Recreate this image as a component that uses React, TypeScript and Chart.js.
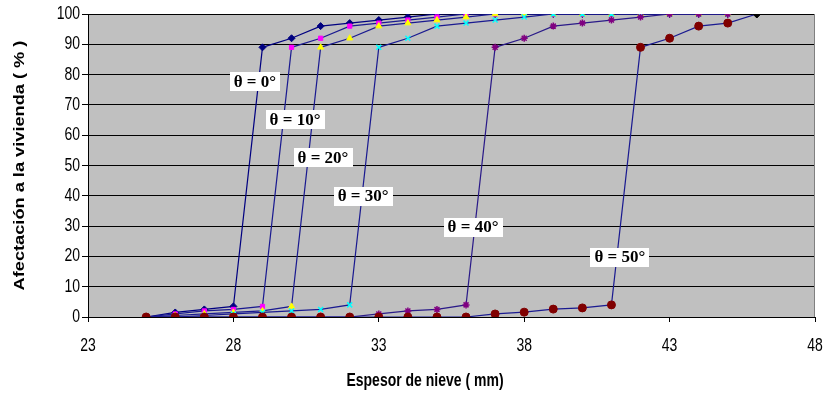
import React, { useEffect, useRef } from "react";
import { Chart, registerables } from "chart.js";

Chart.register(...registerables);

const seriesNames = ["θ = 0°", "θ = 10°", "θ = 20°", "θ = 30°", "θ = 40°", "θ = 50°"];

const xTheta0 = [25, 26, 27, 28, 29, 30, 31, 32, 33, 34, 35, 36, 37, 38, 39, 40, 41, 42, 43, 44, 45];
const yTheta0 = [0, 1.5, 2.5, 3.5, 89, 92, 96, 97, 98, 99, 100, 100, 100, 100, 100, 100, 100, 100, 100, 100, 100];

const xTheta10 = [25, 26, 27, 28, 29, 30, 31, 32, 33, 34, 35, 36, 37, 38, 39, 40, 41, 42, 43, 44, 45];
const yTheta10 = [0, 1, 2, 2.5, 3.5, 89, 92, 96, 97, 98, 99, 100, 100, 100, 100, 100, 100, 100, 100, 100, 100];

const xTheta20 = [25, 26, 27, 28, 29, 30, 31, 32, 33, 34, 35, 36, 37, 38, 39, 40, 41, 42, 43, 44, 45];
const yTheta20 = [0, 0.5, 1, 1.5, 2, 3.5, 89, 92, 96, 97, 98, 99, 100, 100, 100, 100, 100, 100, 100, 100, 100];

const xTheta30 = [25, 26, 27, 28, 29, 30, 31, 32, 33, 34, 35, 36, 37, 38, 39, 40, 41, 42, 43, 44, 45];
const yTheta30 = [0, 0, 0.5, 1, 1.5, 2, 2.5, 4, 89, 92, 96, 97, 98, 99, 100, 100, 100, 100, 100, 100, 100];

const xTheta40 = [25, 26, 27, 28, 29, 30, 31, 32, 33, 34, 35, 36, 37, 38, 39, 40, 41, 42, 43, 44, 45];
const yTheta40 = [0, 0, 0, 0, 0, 0, 0, 0, 1, 2, 2.5, 4, 89, 92, 96, 97, 98, 99, 100, 100, 100];

const xTheta50 = [25, 26, 27, 28, 29, 30, 31, 32, 33, 34, 35, 36, 37, 38, 39, 40, 41, 42, 43, 44, 45, 46];
const yTheta50 = [0, 0, 0, 0, 0, 0, 0, 0, 0, 0, 0, 0, 1, 1.6, 2.6, 3, 4, 89, 92, 96, 97, 100];

const xTicks = [23, 28, 33, 38, 43, 48];
const yTicks = [0, 10, 20, 30, 40, 50, 60, 70, 80, 90, 100];

const xTitle = "Espesor de nieve ( mm)";
const yTitle = "Afectación a la vivienda ( % )";

const xSeries = [xTheta0, xTheta10, xTheta20, xTheta30, xTheta40, xTheta50];
const ySeries = [yTheta0, yTheta10, yTheta20, yTheta30, yTheta40, yTheta50];

const markerStyles = ["rectRot", "rect", "triangle", "crossRot", "star", "circle"];
const markerColors = ["#000080", "#FF00FF", "#FFFF00", "#00FFFF", "#800080", "#800000"];
const markerRadii = [3.5, 3, 3.5, 3.5, 3.5, 4];
const lineColors = ["#000080", "#1a1a90", "#1a1a90", "#1a1a90", "#2a1a88", "#1a1a90"];

// label anchor positions in data units (x, y)
const labelAnchors = [
  [28.74, 77.6],
  [30.12, 65.3],
  [31.08, 52.5],
  [32.46, 39.9],
  [36.24, 29.7],
  [41.29, 19.8],
];

const SANS = "'Liberation Sans', Arial, sans-serif";
const STRETCH = 1.3;

const plotBgPlugin = {
  id: "plotBg",
  beforeDraw(chart: any) {
    const { ctx, chartArea } = chart;
    ctx.save();
    ctx.fillStyle = "#C0C0C0";
    ctx.fillRect(chartArea.left, chartArea.top, chartArea.right - chartArea.left, chartArea.bottom - chartArea.top);
    ctx.restore();
  },
  afterDraw(chart: any) {
    const { ctx, chartArea } = chart;
    ctx.save();
    ctx.strokeStyle = "#808080";
    ctx.lineWidth = 1;
    ctx.beginPath();
    ctx.moveTo(chartArea.right - 0.5, chartArea.top);
    ctx.lineTo(chartArea.right - 0.5, chartArea.bottom);
    ctx.stroke();
    ctx.restore();
  },
};

const axisTextPlugin = {
  id: "axisText",
  afterDraw(chart: any) {
    const { ctx, scales, chartArea } = chart;
    ctx.save();
    ctx.fillStyle = "#000";
    // y tick labels
    ctx.font = `14px ${SANS}`;
    ctx.textAlign = "right";
    ctx.textBaseline = "middle";
    yTicks.forEach((v) => {
      const py = scales.y.getPixelForValue(v);
      ctx.save();
      ctx.translate(chartArea.left - 8, py);
      ctx.scale(1, STRETCH);
      ctx.fillText(String(v), 0, 0);
      ctx.restore();
    });
    // x tick labels
    ctx.textAlign = "center";
    xTicks.forEach((v) => {
      const px = scales.x.getPixelForValue(v);
      ctx.save();
      ctx.translate(px, chartArea.bottom + 29);
      ctx.scale(1, STRETCH);
      ctx.fillText(String(v), 0, 0);
      ctx.restore();
    });
    // x title
    ctx.font = `bold 14px ${SANS}`;
    ctx.save();
    ctx.translate(425, chartArea.bottom + 64);
    ctx.scale(1, STRETCH);
    ctx.fillText(xTitle, 0, 0);
    ctx.restore();
    // y title
    ctx.save();
    ctx.translate(20, (chartArea.top + chartArea.bottom) / 2);
    ctx.rotate(-Math.PI / 2);
    ctx.scale(STRETCH, 1);
    ctx.fillText(yTitle, 0, 0);
    ctx.restore();
    ctx.restore();
  },
};

const labelPlugin = {
  id: "seriesLabels",
  afterDatasetsDraw(chart: any) {
    const { ctx, scales } = chart;
    ctx.save();
    ctx.font = "bold 17px 'Liberation Serif', 'Times New Roman', serif";
    ctx.textAlign = "center";
    ctx.textBaseline = "middle";
    seriesNames.forEach((name, i) => {
      const px = scales.x.getPixelForValue(labelAnchors[i][0]);
      const py = scales.y.getPixelForValue(labelAnchors[i][1]);
      const w = ctx.measureText(name).width + 8;
      const h = 19;
      ctx.fillStyle = "#FFFFFF";
      ctx.fillRect(Math.round(px - w / 2), Math.round(py - h / 2), Math.round(w), h);
      ctx.fillStyle = "#000000";
      ctx.fillText(name, px, py + 1);
    });
    ctx.restore();
  },
};

export default function App() {
  const canvasRef = useRef<HTMLCanvasElement | null>(null);

  useEffect(() => {
    const canvas = canvasRef.current;
    if (!canvas) return;
    const lastIdx = xTheta50.length - 1;
    const datasets = seriesNames.map((name, i) => ({
      label: name,
      data: xSeries[i].map((x, j) => ({ x, y: ySeries[i][j] })),
      borderColor: lineColors[i],
      borderWidth: 1.2,
      backgroundColor: markerColors[i],
      pointBackgroundColor: i === 5 ? xSeries[i].map((_, j) => (j === lastIdx ? "#000000" : markerColors[i])) : markerColors[i],
      pointBorderColor: i === 5 ? xSeries[i].map((_, j) => (j === lastIdx ? "#000000" : markerColors[i])) : markerColors[i],
      pointBorderWidth: markerStyles[i] === "crossRot" || markerStyles[i] === "star" ? 1.5 : 1,
      pointStyle: i === 5 ? xSeries[i].map((_, j) => (j === lastIdx ? "rectRot" : "circle")) : markerStyles[i],
      pointRadius: markerRadii[i],
      showLine: true,
      fill: false,
      tension: 0,
      order: 6 - i,
    }));

    const chart = new Chart(canvas, {
      type: "scatter",
      data: { datasets },
      options: {
        responsive: false,
        animation: false,
        devicePixelRatio: 1,
        layout: { padding: { left: 0, right: 11, top: 14, bottom: 0 } },
        plugins: {
          legend: { display: false },
          tooltip: { enabled: false },
        },
        scales: {
          x: {
            type: "linear",
            min: 23,
            max: 48,
            afterBuildTicks: (scale: any) => {
              scale.ticks = xTicks.map((v) => ({ value: v }));
            },
            afterFit: (scale: any) => {
              scale.height = 77;
              scale.paddingLeft = 0;
              scale.paddingRight = 0;
            },
            ticks: { display: false },
            grid: {
              drawOnChartArea: false,
              drawTicks: true,
              tickLength: 5,
              color: "#000",
            },
            border: { display: true, color: "#000", width: 1 },
          },
          y: {
            type: "linear",
            min: 0,
            max: 100,
            afterBuildTicks: (scale: any) => {
              scale.ticks = yTicks.map((v) => ({ value: v }));
            },
            afterFit: (scale: any) => {
              scale.width = 88;
              scale.paddingTop = 0;
              scale.paddingBottom = 0;
            },
            ticks: { display: false },
            grid: {
              color: "#000",
              lineWidth: 1,
              drawTicks: true,
              tickLength: 6,
            },
            border: { display: true, color: "#000", width: 1 },
          },
        },
      },
      plugins: [plotBgPlugin, labelPlugin, axisTextPlugin],
    });

    return () => {
      chart.destroy();
    };
  }, []);

  return (
    <div style={{ position: "absolute", left: 0, top: 0, width: 826, height: 394, background: "#fff" }}>
      <canvas ref={canvasRef} width={826} height={394} style={{ width: 826, height: 394, display: "block" }} />
    </div>
  );
}
